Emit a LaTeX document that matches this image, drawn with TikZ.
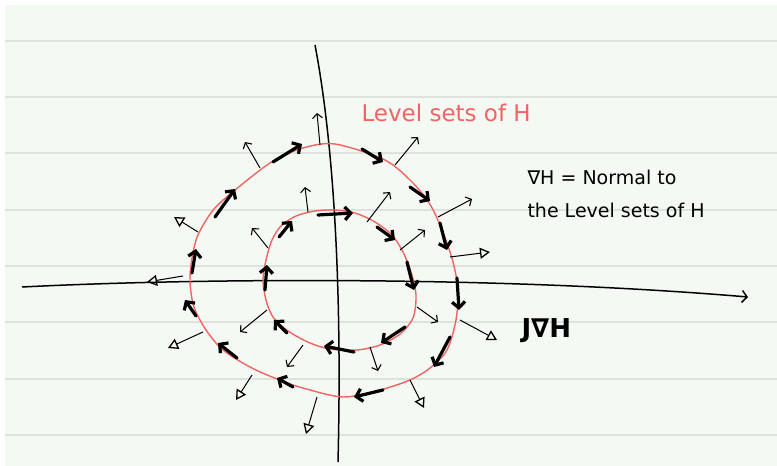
\documentclass[tikz,border=0pt]{standalone}
\usepackage{fontspec}
\setmainfont{DejaVu Sans}
\usetikzlibrary{arrows.meta}
\definecolor{paper}{HTML}{F5F9F4}
\definecolor{ruleline}{HTML}{DCE2DC}
\definecolor{levelred}{HTML}{F06464}
\tikzset{
  flow/.style={line width=3.2pt, line cap=round, -{Straight Barb[length=6pt,width=13pt]}},
  gradbarb/.style={line width=1pt, -{Straight Barb[length=4.5pt,width=10pt,line width=1.1pt]}},
  gradtri/.style={line width=1pt, -{Triangle[open,length=10pt,width=11pt,line width=1.3pt]}},
}
\begin{document}
\begin{tikzpicture}[x=1pt,y=-1pt]
  \useasboundingbox (0,0) rectangle (777,466);
  \fill[white] (0,0) rectangle (777,466);
  \fill[paper] (5,5) rectangle (777,466);
  % ruled paper
  \foreach \y in {41,97,153,210,266,322,379,435} {
    \draw[ruleline, line width=1.3pt] (5,\y) -- (777,\y);
  }
  % axes
  \draw[line width=1.5pt, -{Straight Barb[length=5pt,width=12pt]}] (22,287) .. controls (200,278) and (500,276) .. (748,297);
  \draw[line width=1.5pt] (315,45) .. controls (335,150) and (342,300) .. (338,462);
  % level sets of H
  \draw[levelred, line width=1.4pt] plot[smooth cycle] coordinates {
    (335,144) (385,160) (413,183) (431,206) (444,235) (453,262) (458,290)
    (456,320) (447,350) (430,368) (410,380) (380,390) (343,397) (303,388)
    (277,379) (250,367) (223,350) (206,330) (194,307) (190,282) (192,258)
    (198,235) (214,209) (240,186) (273,161) (303,148)};
  \draw[levelred, line width=1.4pt] plot[smooth cycle] coordinates {
    (335,210) (355,213) (375,222) (392,235) (403,252) (411,272) (416,295)
    (413,318) (400,334) (380,345) (357,350) (330,349) (310,343) (288,331)
    (273,317) (266,300) (263,280) (266,260) (272,240) (281,226) (296,216)
    (315,211)};
  % J grad H along the outer set
  \foreach \xa/\ya/\xb/\yb in {192/273/196/249, 215/217/235/189, 273/162/302/144,
      362/149/383/162, 410/187/430/201, 440/223/447/250, 457/278/459/310,
      450/337/434/367, 383/390/354/397, 293/387/277/378, 237/358/218/343,
      196/316/185/300} {
    \draw[flow] (\xa,\ya) -- (\xb,\yb);
  }
  % J grad H along the inner set
  \foreach \xa/\ya/\xb/\yb in {265/290/267/265, 279/237/292/221, 318/215/353/213,
      377/227/395/240, 407/262/414/290, 405/327/381/343, 354/352/324/346,
      287/333/274/320} {
    \draw[flow] (\xa,\ya) -- (\xb,\yb);
  }
  % grad H, outer set
  \foreach \xa/\ya/\xb/\yb in {320/145/317/113, 260/168/245/142, 438/217/472/199,
      395/165/418/137} {
    \draw[gradbarb] (\xa,\ya) -- (\xb,\yb);
  }
  \foreach \xa/\ya/\xb/\yb in {198/232/174/217, 183/276/147/282, 203/332/168/348,
      252/375/236/400, 317/397/306/434, 410/380/424/408, 460/320/497/340,
      450/257/490/252} {
    \draw[gradtri] (\xa,\ya) -- (\xb,\yb);
  }
  % grad H, inner set
  \foreach \xa/\ya/\xb/\yb in {308/212/305/187, 268/248/252/228, 367/222/390/192,
      400/250/425/230, 417/307/438/322, 370/347/378/371, 303/345/287/367,
      267/310/240/332} {
    \draw[gradbarb] (\xa,\ya) -- (\xb,\yb);
  }
  % labels
  \node[levelred, anchor=west, font=\fontsize{23}{26}\selectfont] (levellabel) at (358,113) {Level sets of H};
  \node[anchor=west, align=left, font=\fontsize{19}{33}\selectfont] (gradlabel) at (524,194) {∇H = Normal to\\the Level sets of H};
  \node[anchor=west, font=\bfseries\fontsize{26}{30}\selectfont] (jlabel) at (518,331) {J∇H};
\end{tikzpicture}
\end{document}
